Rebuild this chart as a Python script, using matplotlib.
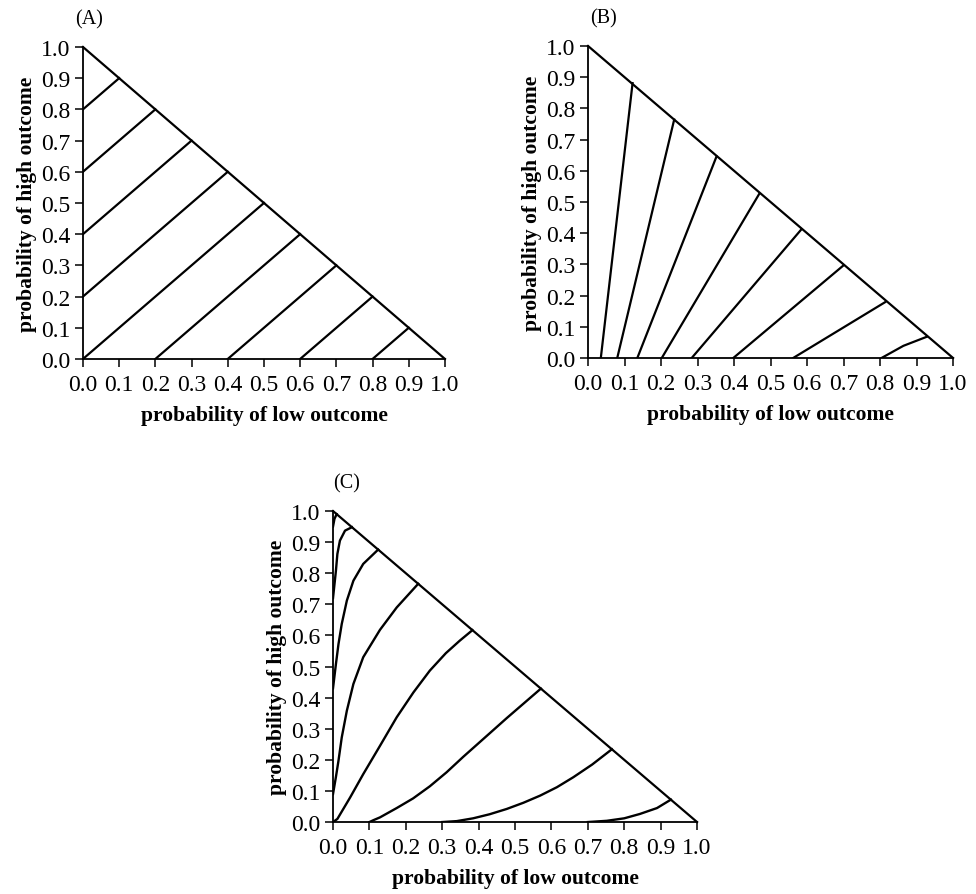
import numpy as np
import matplotlib
matplotlib.use('Agg')
import matplotlib.pyplot as plt

plt.rcParams['font.family'] = ['Liberation Serif', 'DejaVu Serif']

# Panel A: straight, parallel indifference lines (start -> end on hypotenuse)
a_start_x = [0.0, 0.0, 0.0, 0.0, 0.0, 0.2, 0.4, 0.6, 0.8]
a_start_y = [0.8, 0.6, 0.4, 0.2, 0.0, 0.0, 0.0, 0.0, 0.0]
a_end_x = [0.1, 0.2, 0.3, 0.4, 0.5, 0.6, 0.7, 0.8, 0.9]
a_end_y = [0.9, 0.8, 0.7, 0.6, 0.5, 0.4, 0.3, 0.2, 0.1]

# Panel B: fanning-out lines
b_curves_x = [
    [0.035, 0.122],
    [0.080, 0.236],
    [0.135, 0.352],
    [0.202, 0.469],
    [0.284, 0.585],
    [0.398, 0.699],
    [0.562, 0.814],
    [0.804, 0.864, 0.928],
]
b_curves_y = [
    [0.0, 0.881],
    [0.0, 0.764],
    [0.0, 0.646],
    [0.0, 0.526],
    [0.0, 0.413],
    [0.0, 0.296],
    [0.0, 0.179],
    [0.0, 0.039, 0.068],
]

# Panel C: curved indifference curves
c_curves_x = [
    [0.0, 0.004, 0.010],
    [0.0, 0.008, 0.012, 0.019, 0.033, 0.052],
    [0.0, 0.008, 0.015, 0.024, 0.038, 0.056, 0.083, 0.124],
    [0.0, 0.008, 0.015, 0.024, 0.038, 0.056, 0.083, 0.129, 0.175, 0.234],
    [0.0, 0.012, 0.047, 0.083, 0.129, 0.175, 0.221, 0.266, 0.310, 0.348, 0.383],
    [0.10, 0.111, 0.129, 0.175, 0.220, 0.266, 0.312, 0.358, 0.431, 0.477, 0.571],
    [0.30, 0.34, 0.385, 0.430, 0.477, 0.523, 0.569, 0.615, 0.660, 0.712, 0.766],
    [0.70, 0.752, 0.80, 0.843, 0.89, 0.928],
]
c_curves_y = [
    [0.95, 0.975, 0.990],
    [0.72, 0.808, 0.862, 0.905, 0.937, 0.948],
    [0.43, 0.508, 0.572, 0.637, 0.712, 0.776, 0.830, 0.876],
    [0.09, 0.145, 0.197, 0.272, 0.358, 0.444, 0.530, 0.618, 0.690, 0.766],
    [0.0, 0.010, 0.079, 0.154, 0.245, 0.337, 0.417, 0.487, 0.543, 0.583, 0.617],
    [0.0, 0.006, 0.015, 0.045, 0.076, 0.115, 0.160, 0.210, 0.286, 0.334, 0.429],
    [0.0, 0.003, 0.012, 0.025, 0.042, 0.062, 0.085, 0.112, 0.144, 0.185, 0.234],
    [0.0, 0.004, 0.012, 0.026, 0.045, 0.072],
]

ticks = np.arange(0, 1.01, 0.1)
tick_labels = ['%.1f' % t for t in ticks]

fig = plt.figure(figsize=(9.76, 8.95), dpi=100)


def setup(ax, label, label_x):
    ax.set_xlim(0, 1)
    ax.set_ylim(0, 1)
    ax.spines['top'].set_visible(False)
    ax.spines['right'].set_visible(False)
    ax.spines['left'].set_linewidth(1.3)
    ax.spines['bottom'].set_linewidth(1.3)
    ax.set_xticks(ticks)
    ax.set_yticks(ticks)
    ax.set_xticklabels(tick_labels)
    ax.set_yticklabels(tick_labels)
    ax.tick_params(direction='out', length=6, width=1.1, labelsize=17)
    ax.tick_params(axis='x', pad=5)
    ax.tick_params(axis='y', pad=3)
    ax.set_xlabel('probability of low outcome', fontsize=15.5, fontweight='bold', labelpad=7)
    ax.set_ylabel('probability of high outcome', fontsize=15.5, fontweight='bold', labelpad=3)
    # hypotenuse of the probability triangle
    ax.plot([0, 1], [1, 0], color='black', lw=1.6, clip_on=False)
    ax.text(label_x, 1.09, label, transform=ax.transAxes, fontsize=14.5, va='center', ha='left')


axA = fig.add_axes([0.0850, 0.5978, 0.3709, 0.3486])
setup(axA, '(A)', -0.022)
for x0, y0, x1, y1 in zip(a_start_x, a_start_y, a_end_x, a_end_y):
    axA.plot([x0, x1], [y0, y1], color='black', lw=1.6)

axB = fig.add_axes([0.6025, 0.5989, 0.3740, 0.3486])
setup(axB, '(B)', 0.005)
for xs, ys in zip(b_curves_x, b_curves_y):
    axB.plot(xs, ys, color='black', lw=1.6)

axC = fig.add_axes([0.3412, 0.0804, 0.3730, 0.3475])
setup(axC, '(C)', 0.0)
for xs, ys in zip(c_curves_x, c_curves_y):
    axC.plot(xs, ys, color='black', lw=1.7, solid_joinstyle='round')

fig.savefig('out.png', dpi=100)
